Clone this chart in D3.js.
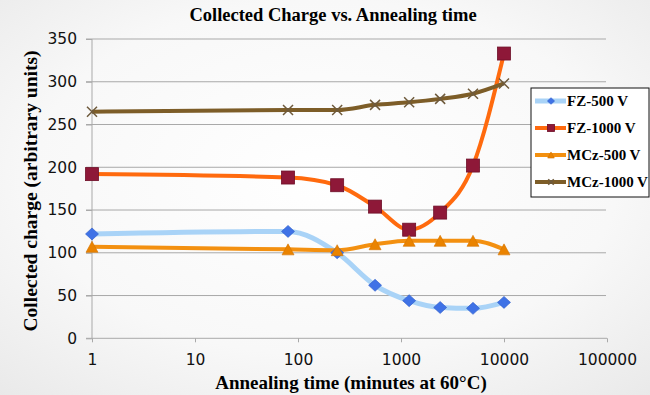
<!DOCTYPE html>
<html>
<head>
<meta charset="utf-8">
<script src="https://cdn.jsdelivr.net/npm/d3@7"></script>
<style>
  html, body { margin: 0; padding: 0; }
  body { width: 650px; height: 395px; overflow: hidden; }
</style>
</head>
<body>
<svg id="chart" width="650" height="395"></svg>
<script>
// annealing steps (minutes at 60C)
const times = [1, 80, 240, 560, 1200, 2400, 5000, 10000];
const xTicks = [1, 10, 100, 1000, 10000, 100000];
const yTicks = [0, 50, 100, 150, 200, 250, 300, 350];

const fz500 = [122, 125, 100, 62, 44, 36, 35, 42];
const fz1000 = [192, 188, 179, 154, 127, 147, 202, 333];
const mcz500 = [107, 104, 103, 110, 114, 114, 114, 104];
const mcz1000 = [265, 267, 267, 273, 276, 280, 286, 298];

const series = [
    {name: "FZ-500 V", values: fz500, line: "#a9d3f7", marker: "diamond", fill: "#3f72e6", lw: 5},
    {name: "FZ-1000 V", values: fz1000, line: "#ff6a0e", marker: "square", fill: "#8e1838", lw: 4},
    {name: "MCz-500 V", values: mcz500, line: "#f39010", marker: "triangle", fill: "#ea8300", lw: 4},
    {name: "MCz-1000 V", values: mcz1000, line: "#7d5d28", marker: "cross", fill: "#6e5a3c", lw: 4}
];

const svg = d3.select("#chart");
const serif = "'Liberation Serif', 'DejaVu Serif', serif";
const sans = "'DejaVu Sans', Verdana, sans-serif";

// background
const defs = svg.append("defs");
const grad = defs.append("radialGradient").attr("id", "bg")
    .attr("cx", "50%").attr("cy", "45%").attr("r", "75%");
grad.append("stop").attr("offset", "0%").attr("stop-color", "#ffffff");
grad.append("stop").attr("offset", "60%").attr("stop-color", "#f8f8f8");
grad.append("stop").attr("offset", "100%").attr("stop-color", "#e9e9e9");
svg.append("rect").attr("width", 650).attr("height", 395).attr("fill", "url(#bg)");

let x = d3.scaleLog().domain([1, 100000]).range([92, 607]);
let y = d3.scaleLinear().domain([0, 350]).range([338.3, 39]);

// gridlines
svg.append("g").selectAll("line").data(yTicks.slice(1)).enter().append("line")
    .attr("x1", 86).attr("x2", 606)
    .attr("y1", d => y(d)).attr("y2", d => y(d))
    .attr("stroke", "#a9a9a9").attr("stroke-width", 1);

// axes
let yAxis = d3.axisLeft(y).tickValues(yTicks).tickSize(6).tickPadding(9);
let gy = svg.append("g").attr("transform", "translate(92,0)").call(yAxis);
gy.select(".domain").attr("stroke", "#a9a9a9").attr("d", "M0," + y(350) + "V" + y(0));
gy.selectAll(".tick line").attr("stroke", "#a9a9a9");
gy.selectAll("text").attr("font-family", sans).attr("font-size", 15.5).attr("fill", "#111");

let xAxis = d3.axisBottom(x).tickValues(xTicks).tickFormat(d3.format("d")).tickSize(4).tickPadding(12);
let gx = svg.append("g").attr("transform", "translate(0," + y(0) + ")").call(xAxis);
gx.select(".domain").attr("stroke", "#a9a9a9").attr("d", "M86,0H607");
gx.selectAll(".tick line").attr("stroke", "#a9a9a9");
gx.selectAll("text").attr("font-family", sans).attr("font-size", 15.5).attr("fill", "#111");

// titles
svg.append("text").attr("x", 333).attr("y", 21).attr("text-anchor", "middle")
    .attr("font-family", serif).attr("font-weight", "bold").attr("font-size", 18.5)
    .text("Collected Charge vs. Annealing time");
svg.append("text").attr("x", 351).attr("y", 389).attr("text-anchor", "middle")
    .attr("font-family", serif).attr("font-weight", "bold").attr("font-size", 19)
    .text("Annealing time (minutes at 60°C)");
svg.append("text").attr("transform", "translate(37,191) rotate(-90)").attr("text-anchor", "middle")
    .attr("font-family", serif).attr("font-weight", "bold").attr("font-size", 19.5)
    .text("Collected charge (arbitrary units)");

// marker drawing, k scales the marker size
function drawMarker(g, s, k) {
    if (s.marker === "diamond") {
        let w = 6.5 * k, h = 6 * k;
        g.append("path").attr("d", "M0," + (-h) + "L" + w + ",0L0," + h + "L" + (-w) + ",0Z")
            .attr("fill", s.fill).attr("stroke", "#2c5bc8").attr("stroke-width", 0.6);
    } else if (s.marker === "square") {
        let h = 6.5 * k;
        g.append("rect").attr("x", -h).attr("y", -h)
            .attr("width", 2 * h).attr("height", 2 * h)
            .attr("fill", s.fill).attr("stroke", "#6e0f28").attr("stroke-width", 0.8);
    } else if (s.marker === "triangle") {
        let w = 6 * k, h = 5.5 * k;
        g.append("path").attr("d", "M0," + (-h) + "L" + w + "," + h + "L" + (-w) + "," + h + "Z")
            .attr("fill", s.fill).attr("stroke", "#d57400").attr("stroke-width", 0.6);
    } else {
        let h = 5 * k;
        g.append("path").attr("d", "M" + (-h) + "," + (-h) + "L" + h + "," + h + "M" + (-h) + "," + h + "L" + h + "," + (-h))
            .attr("stroke", s.fill).attr("stroke-width", 1.5).attr("fill", "none");
    }
}

// lines and markers
let line = d3.line().curve(d3.curveMonotoneX);
let plot = svg.append("g");
series.forEach(s => {
    let pts = times.map((t, i) => [x(t), y(s.values[i])]);
    plot.append("path").attr("d", line(pts)).attr("fill", "none")
        .attr("stroke", s.line).attr("stroke-width", s.lw)
        .attr("stroke-linejoin", "round");
});
series.forEach(s => {
    times.forEach((t, i) => {
        let g = plot.append("g").attr("transform", "translate(" + x(t) + "," + y(s.values[i]) + ")");
        drawMarker(g, s, 1);
    });
});

// legend
let lg = svg.append("g").attr("transform", "translate(531,88)");
lg.append("rect").attr("width", 118).attr("height", 109)
    .attr("fill", "#ffffff").attr("stroke", "#111").attr("stroke-width", 1);
series.forEach((s, i) => {
    let ly = 13 + i * 27;
    lg.append("line").attr("x1", 4).attr("x2", 35).attr("y1", ly).attr("y2", ly)
        .attr("stroke", s.line).attr("stroke-width", s.lw);
    let g = lg.append("g").attr("transform", "translate(20," + ly + ")");
    drawMarker(g, s, 0.55);
    lg.append("text").attr("x", 36).attr("y", ly + 5)
        .attr("font-family", serif).attr("font-weight", "bold").attr("font-size", 15)
        .text(s.name);
});
</script>
</body>
</html>
